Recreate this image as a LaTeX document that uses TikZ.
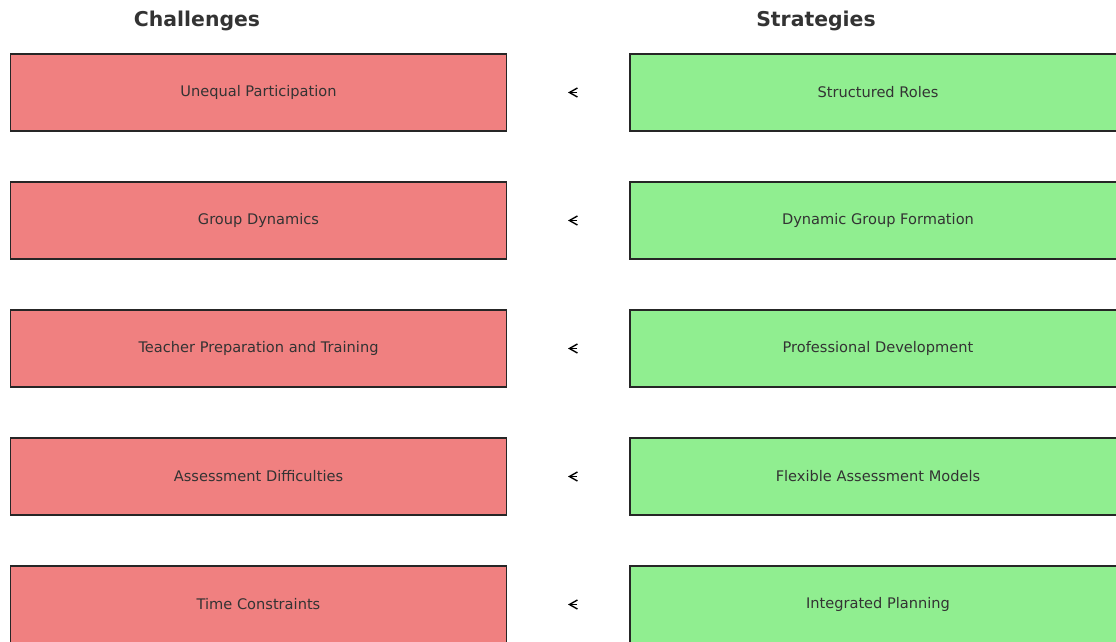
\documentclass[tikz,border=0pt]{standalone}
\usepackage{fontspec}
\setmainfont{DejaVu Sans}
\usetikzlibrary{arrows.meta}
\definecolor{chal}{HTML}{F08080}
\definecolor{strat}{HTML}{90EE90}
\definecolor{txt}{HTML}{333333}
\begin{document}
\begin{tikzpicture}[x=1pt,y=-1pt,
  box/.style={draw=black!85, line width=1.3pt, minimum width=496pt, minimum height=77pt, inner sep=0pt,
    font=\fontsize{14.6}{17}\selectfont, text=txt},
  chalbox/.style={box, fill=chal},
  stratbox/.style={box, fill=strat},
  title/.style={font=\fontsize{20.4}{23}\selectfont\bfseries, text=txt},
  tip/.style={-{Straight Barb[length=8pt,width=9pt]}, line width=1.4pt, black}]
\useasboundingbox (0,0) rectangle (1116,641);
\clip (0,0) rectangle (1116,641);
\node[title] (tc) at (197,21) {Challenges};
\node[title] (ts) at (816,21) {Strategies};
\foreach \i/\c/\s in {0/Unequal Participation/Structured Roles,
  1/Group Dynamics/Dynamic Group Formation,
  2/Teacher Preparation and Training/Professional Development,
  3/Assessment Difficulties/Flexible Assessment Models,
  4/Time Constraints/Integrated Planning}{
  \node[chalbox] (c\i) at (258.5,{92.5+128*\i}) {\c};
  \node[stratbox] (s\i) at (878,{92.5+128*\i}) {\s};
  \coordinate (h\i) at (577,{92.5+128*\i});
  \coordinate (t\i) at (568,{92.5+128*\i});
  \draw[tip] (h\i) -- (t\i);
}
\end{tikzpicture}
\end{document}
